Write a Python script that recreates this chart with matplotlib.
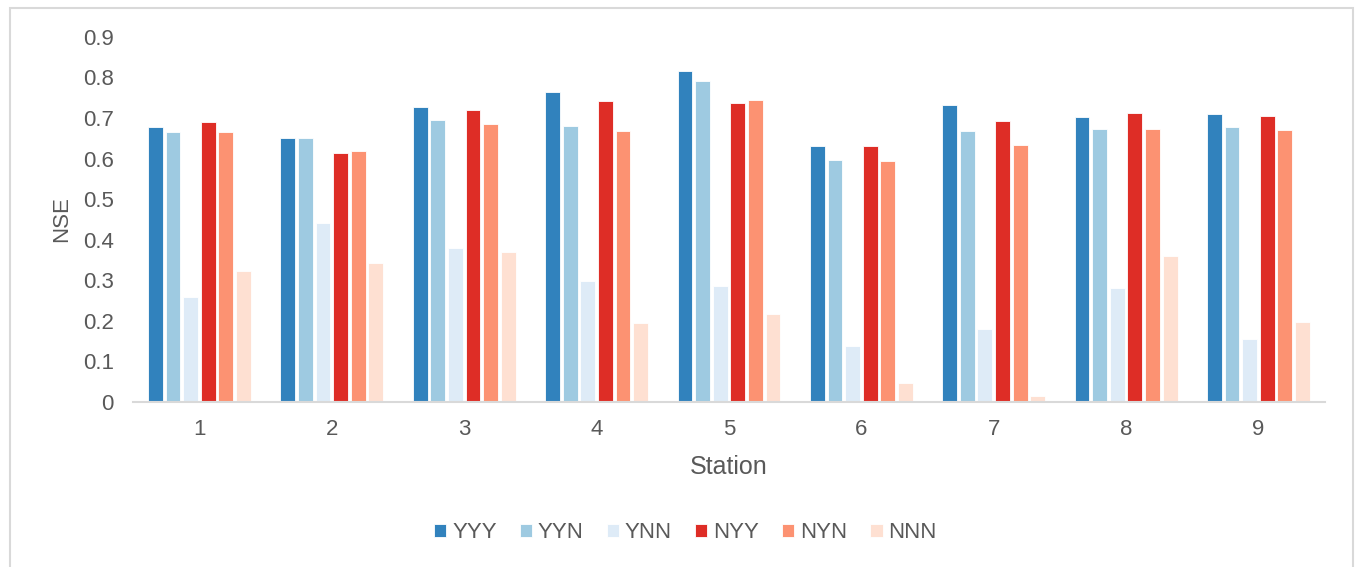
import numpy as np
import matplotlib.pyplot as plt
from matplotlib.patches import Rectangle

plt.rcParams['font.family'] = ['Liberation Sans', 'DejaVu Sans']

stations = ['1', '2', '3', '4', '5', '6', '7', '8', '9']
series = ['YYY', 'YYN', 'YNN', 'NYY', 'NYN', 'NNN']
colors = ['#3182bd', '#9ecae1', '#deebf7', '#de2d26', '#fc9272', '#fee0d2']

yyy = [0.679, 0.650, 0.727, 0.764, 0.815, 0.631, 0.731, 0.702, 0.711]
yyn = [0.665, 0.650, 0.695, 0.680, 0.791, 0.597, 0.667, 0.674, 0.677]
ynn = [0.260, 0.440, 0.379, 0.298, 0.287, 0.139, 0.179, 0.281, 0.155]
nyy = [0.690, 0.613, 0.720, 0.741, 0.738, 0.631, 0.692, 0.713, 0.704]
nyn = [0.665, 0.619, 0.686, 0.667, 0.745, 0.593, 0.634, 0.674, 0.671]
nnn = [0.324, 0.342, 0.369, 0.195, 0.216, 0.047, 0.016, 0.360, 0.198]
values = [yyy, yyn, ynn, nyy, nyn, nnn]

txt = '#595959'
fig = plt.figure(figsize=(13.6, 5.67), dpi=100)
ax = fig.add_axes([0.098, 0.291, 0.876, 0.644])

x = np.arange(len(stations))
step = 0.133
width = 0.112
for i, (name, vals) in enumerate(zip(series, values)):
    ax.bar(x + (i - 2.5) * step, vals, width, color=colors[i], label=name,
           edgecolor='white', linewidth=0.6)

ax.set_xlim(-0.5, len(stations) - 0.5)
ax.set_ylim(0, 0.9)
ax.set_yticks(np.arange(0, 0.91, 0.1))
ax.set_yticklabels(['0'] + ['%.1f' % v for v in np.arange(0.1, 0.91, 0.1)])
ax.set_xticks(x)
ax.set_xticklabels(stations)
ax.tick_params(length=0, labelsize=16, colors=txt)
ax.tick_params(axis='x', pad=12)
ax.tick_params(axis='y', pad=14)
for s in ['top', 'right', 'left']:
    ax.spines[s].set_visible(False)
ax.spines['bottom'].set_color('#d9d9d9')
ax.spines['bottom'].set_linewidth(1.5)
ax.set_ylabel('NSE', fontsize=16, color=txt, labelpad=8)
ax.set_xlabel('Station', fontsize=18, color=txt, labelpad=11)

fig.legend(loc='center', bbox_to_anchor=(0.504, 0.06), ncol=6, frameon=False,
           fontsize=16, labelcolor=txt, handlelength=0.55, handleheight=0.55,
           handletextpad=0.25, columnspacing=1.05)

fig.patches.append(Rectangle((10 / 1360, -0.01), 1343 / 1360, 1 - 8 / 567 + 0.01,
                             transform=fig.transFigure, fill=False,
                             edgecolor='#d9d9d9', linewidth=1.5))

plt.savefig('out.png', dpi=100)
